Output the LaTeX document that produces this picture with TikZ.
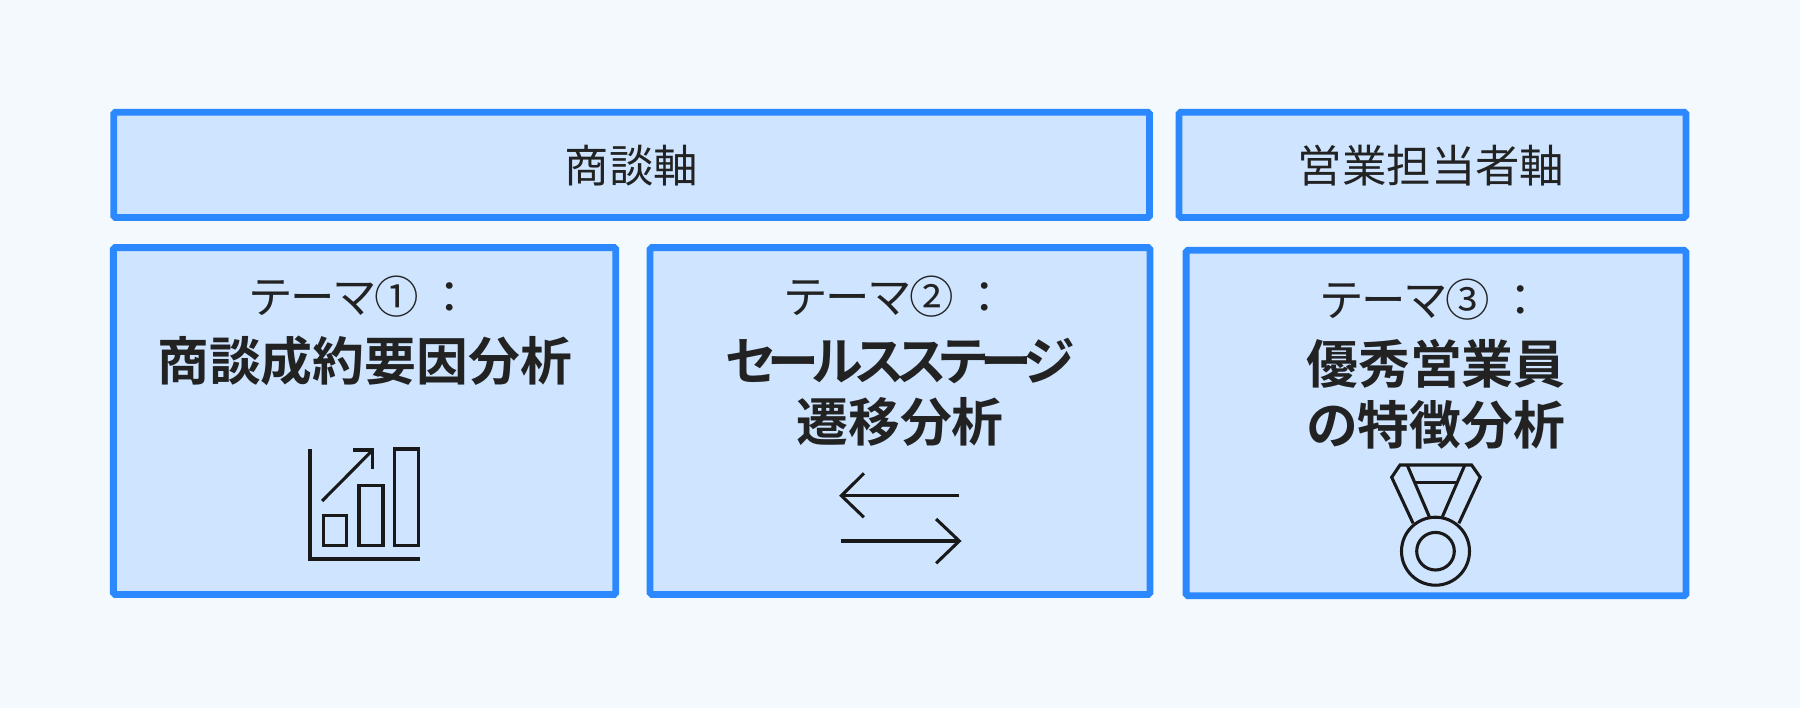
\documentclass[tikz,border=0pt]{standalone}
\usepackage{fontspec}
\setmainfont{Noto Sans CJK JP}[BoldFont={Noto Sans CJK JP Bold}, RawFeature=+palt]
\usepackage{tikz}
\definecolor{pagebg}{HTML}{F3F9FD}
\definecolor{boxline}{HTML}{2B88FF}
\definecolor{boxfill}{HTML}{CEE4FF}
\definecolor{inkcol}{HTML}{222222}
\newcommand{\plainsize}{\fontsize{25.3pt}{34.7pt}\selectfont}
\newcommand{\headsize}{\bfseries\fontsize{29.5pt}{34.7pt}\selectfont}
\tikzset{
  axisbox/.style={draw=boxline, fill=boxfill, line width=3.9pt, rounded corners=1pt, inner sep=0pt, minimum height=2.104cm},
  themebox/.style={draw=boxline, fill=boxfill, line width=3.9pt, rounded corners=1pt, inner sep=0pt, minimum height=6.938cm},
  axistext/.style={text=inkcol, font=\plainsize},
  themetext/.style={text=inkcol, align=center, anchor=north, inner sep=0pt, font=\fontsize{29.5pt}{34.7pt}\selectfont},
  icon/.style={draw=black!90, line width=1.75pt, line join=miter}
}
\begin{document}
\begin{tikzpicture}[x=0.02cm, y=-0.02cm]
  \useasboundingbox (0,0) rectangle (1800,708);
  \fill[pagebg] (0,0) rectangle (1800,708);

  % Cajas
  \node[axisbox, minimum width=20.72cm] (dealbox) at (631.6,164.85) {};
  \node[axisbox, minimum width=10.14cm] (repbox) at (1432.5,164.85) {};
  \node[themebox, minimum width=10.05cm] (themea) at (364.6,421) {};
  \node[themebox, minimum width=10.0cm] (themeb) at (900,421) {};
  \node[themebox, minimum width=9.999cm, minimum height=6.91cm] (themec) at (1436,423) {};

  % Textos
  \node[axistext] (dealtext) at (631.6,166) {商談軸};
  \node[axistext] (reptext) at (1431,166) {営業担当者軸};
  \node[themetext] (themeatext) at (364.6,276) {\plainsize テーマ①\hspace{0.44em}：\hbox to 0.41em{}\\[3pt] \headsize 商談成約要因分析};
  \node[themetext] (themebtext) at (900,276) {\plainsize テーマ②\hspace{0.44em}：\hbox to 0.41em{}\\[3pt] \headsize\addfontfeature{LetterSpace=-13} セールスステージ\\ \headsize 遷移分析};
  \node[themetext] (themectext) at (1436,279) {\plainsize テーマ③\hspace{0.44em}：\hbox to 0.41em{}\\[3pt] \headsize 優秀営業員\\ \headsize の特徴分析};

  % Grafico
  \draw[icon] (310,449) -- (310,559) -- (419.6,559);
  \draw[icon] (323.1,515.7) rectangle (346.9,545.7);
  \draw[icon] (359,485.7) rectangle (383,545.7);
  \draw[icon] (394.4,449) rectangle (418.5,545.7);
  \draw[icon] (322.1,501) -- (372.7,450);
  \draw[icon] (353.1,450) -- (372.7,450) -- (372.7,469.3);

  % Flechas
  \draw[icon] (959.3,495.7) -- (841.4,495.7);
  \draw[icon] (863.9,473.3) -- (841.4,495.7) -- (863.9,517.3);
  \draw[icon] (840.7,541) -- (959.3,541);
  \draw[icon] (936.1,519) -- (959.3,541) -- (936.1,563.3);

  % Medalla
  \draw[icon] (1435.5,551.2) circle [radius=34];
  \draw[icon] (1435.5,551.2) circle [radius=18.8];
  \draw[icon] (1413.1,523.3) -- (1391.7,477.3) -- (1400,465) -- (1471.6,465) -- (1480.2,477.3) -- (1458.9,523.3);
  \draw[icon] (1407.2,465) -- (1429.3,516.7);
  \draw[icon] (1464.8,465) -- (1442.4,516.7);
  \draw[icon] (1415.5,482.7) -- (1456.1,482.7);
\end{tikzpicture}
\end{document}
